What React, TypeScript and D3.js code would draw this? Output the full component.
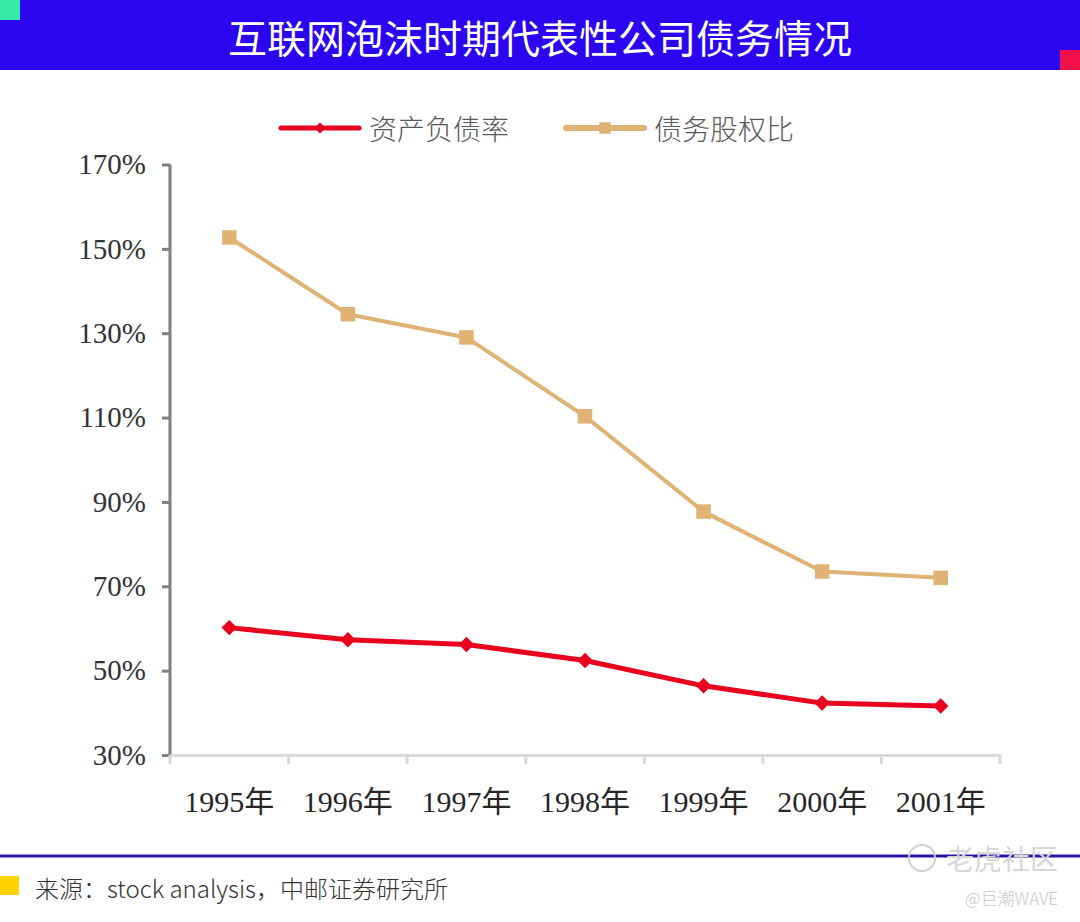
import * as d3 from 'd3';
import React, { useEffect, useRef } from 'react';

// chart values
const years = ['1995年', '1996年', '1997年', '1998年', '1999年', '2000年', '2001年'];
const debtToAsset = [60.2, 57.3, 56.2, 52.4, 46.4, 42.3, 41.6];
const debtToEquity = [152.7, 134.5, 129.0, 110.3, 87.7, 73.5, 72.0];
const yTicks = [30, 50, 70, 90, 110, 130, 150, 170];
const seriesNames = ['资产负债率', '债务股权比'];

const W = 1080;
const H = 922;
const RED = '#e8001e';
const TAN = '#e0b274';
const SERIF = '"Liberation Serif", "Times New Roman", "Noto Sans CJK SC", serif';
const SANS = '"Noto Sans CJK SC", "Noto Sans", sans-serif';

const App: React.FC = () => {
  const svgRef = useRef<SVGSVGElement>(null);

  useEffect(() => {
    if (!svgRef.current) return;
    const svg = d3.select(svgRef.current);
    svg.selectAll('*').remove();

    svg.append('rect').attr('width', W).attr('height', H).attr('fill', '#fff');

    // header band
    svg.append('rect').attr('width', W).attr('height', 70).attr('fill', '#2b05ef');
    svg.append('rect').attr('width', 20).attr('height', 20).attr('fill', '#35e9a6');
    svg.append('rect').attr('x', 1060).attr('y', 50).attr('width', 20).attr('height', 20).attr('fill', '#f5104c');
    svg.append('text')
      .attr('x', W / 2).attr('y', 36)
      .attr('text-anchor', 'middle').attr('dominant-baseline', 'central')
      .style('font-family', SANS).style('font-size', '39px').style('font-weight', 400)
      .attr('fill', '#fff')
      .text('互联网泡沫时期代表性公司债务情况');

    // scales
    const x = d3.scaleBand<string>().domain(years).range([170, 1000]);
    const y = d3.scaleLinear().domain([30, 170]).range([755, 164.5]);
    const cx = (d: string) => (x(d) ?? 0) + x.bandwidth() / 2;

    // y axis
    const yAxis = svg.append('g')
      .attr('transform', 'translate(170,0)')
      .call(d3.axisLeft(y).tickValues(yTicks).tickSize(8).tickFormat(d => `${d}%`));
    yAxis.select('.domain').attr('stroke', '#7f7f7f').attr('stroke-width', 3).attr('d', `M0,${y(170)}V${y(30)}`);
    yAxis.selectAll('.tick line').attr('stroke', '#7f7f7f').attr('stroke-width', 3);
    yAxis.selectAll('.tick text')
      .attr('x', -24)
      .style('font-family', SERIF).style('font-size', '29px').attr('fill', '#333');

    // x axis
    const xAxis = svg.append('g')
      .attr('transform', `translate(0,${y(30)})`)
      .call(d3.axisBottom(x).tickSize(0).tickPadding(36));
    xAxis.select('.domain').attr('stroke', '#d9d9d9').attr('stroke-width', 3);
    xAxis.selectAll('.tick text')
      .style('font-family', SERIF).style('font-size', '30px').attr('fill', '#262626');
    const bounds = [...years.map(d => x(d) ?? 0), 1000];
    svg.append('g').selectAll('line').data(bounds).join('line')
      .attr('x1', d => d).attr('x2', d => d)
      .attr('y1', y(30)).attr('y2', y(30) + 9)
      .attr('stroke', '#d9d9d9').attr('stroke-width', 3);

    // lines
    const line = d3.line<number>().x((_, i) => cx(years[i])).y(d => y(d));
    svg.append('path').datum(debtToEquity).attr('d', line)
      .attr('fill', 'none').attr('stroke', TAN).attr('stroke-width', 4).attr('stroke-linejoin', 'round');
    svg.append('path').datum(debtToAsset).attr('d', line)
      .attr('fill', 'none').attr('stroke', RED).attr('stroke-width', 5).attr('stroke-linejoin', 'round');

    const square = d3.symbol().type(d3.symbolSquare).size(210);
    // diamond = square turned 45°
    const diamond = d3.symbol().type(d3.symbolSquare).size(120);

    svg.append('g').selectAll('path').data(debtToEquity).join('path')
      .attr('d', square)
      .attr('transform', (d, i) => `translate(${cx(years[i])},${y(d)})`)
      .attr('fill', TAN);
    svg.append('g').selectAll('path').data(debtToAsset).join('path')
      .attr('d', diamond)
      .attr('transform', (d, i) => `translate(${cx(years[i])},${y(d)}) rotate(45)`)
      .attr('fill', RED);

    // legend
    const legend = [
      { name: seriesNames[0], color: RED, x0: 281, marker: d3.symbol().type(d3.symbolSquare).size(60)(), rot: 45, w: 5 },
      { name: seriesNames[1], color: TAN, x0: 566, marker: d3.symbol().type(d3.symbolSquare).size(130)(), rot: 0, w: 6 },
    ];
    const lg = svg.append('g').selectAll('g').data(legend).join('g')
      .attr('transform', d => `translate(${d.x0},128)`);
    lg.append('line').attr('x1', 0).attr('x2', 78)
      .attr('stroke', d => d.color).attr('stroke-width', d => d.w).attr('stroke-linecap', 'round');
    lg.append('path').attr('d', d => d.marker)
      .attr('transform', d => `translate(39,0) rotate(${d.rot})`).attr('fill', d => d.color);
    lg.append('text').attr('x', 88).attr('dominant-baseline', 'central')
      .style('font-family', SANS).style('font-size', '28px').style('font-weight', 300)
      .attr('fill', '#595959').text(d => d.name);

    // footer
    svg.append('line').attr('x1', 0).attr('x2', W).attr('y1', 856).attr('y2', 856)
      .attr('stroke', '#2a14a8').attr('stroke-width', 3);
    svg.append('rect').attr('x', 0).attr('y', 876).attr('width', 19).attr('height', 19).attr('fill', '#ffd200');
    svg.append('text').attr('x', 35).attr('y', 887).attr('dominant-baseline', 'central')
      .style('font-family', SANS).style('font-size', '24px').style('font-weight', 300).attr('fill', '#333')
      .text('来源：stock analysis，中邮证券研究所');

    // watermark
    svg.append('circle').attr('cx', 922).attr('cy', 858).attr('r', 13)
      .attr('fill', 'none').attr('stroke', '#d0d0d0').attr('stroke-width', 2);
    svg.append('text').attr('x', 1058).attr('y', 858).attr('text-anchor', 'end').attr('dominant-baseline', 'central')
      .style('font-family', SANS).style('font-size', '28px').attr('fill', '#d6d6d6')
      .text('老虎社区');
    svg.append('text').attr('x', 1058).attr('y', 897).attr('text-anchor', 'end').attr('dominant-baseline', 'central')
      .style('font-family', SANS).style('font-size', '17px').style('font-weight', 300).attr('fill', '#c8c8c8')
      .text('@巨潮WAVE');
  }, []);

  return <svg ref={svgRef} width={W} height={H} style={{ display: 'block', position: 'absolute', left: 0, top: 0 }} />;
};

export default App;
